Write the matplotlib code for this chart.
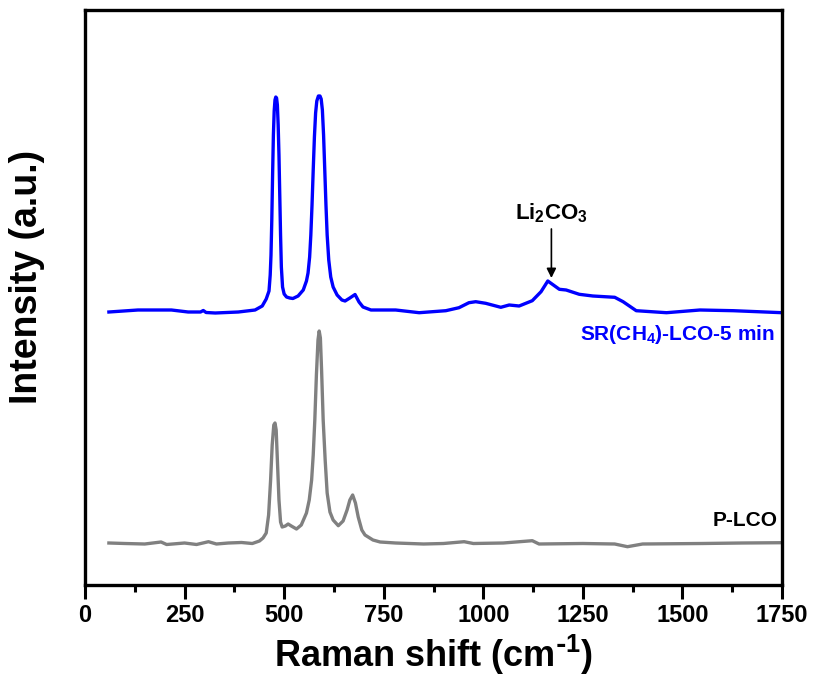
import matplotlib
matplotlib.use("Agg")
import matplotlib.pyplot as plt
from matplotlib.ticker import MultipleLocator

plt.rcParams['font.family'] = ['Liberation Sans', 'DejaVu Sans']
plt.rcParams['font.weight'] = 'bold'
plt.rcParams['mathtext.default'] = 'regular'

# SR(CH4)-LCO-5 min spectrum (offset upwards)
sr_x = [60, 133, 217, 259, 290, 297, 304, 327, 385, 427, 445, 455, 462, 465, 467, 469,
        471, 473, 475, 477, 479, 481, 483, 485, 487, 489, 491, 493, 496, 500, 506, 514,
        522, 535, 548, 556, 560, 564, 567, 570, 573, 576, 579, 582, 586, 590, 593, 596,
        599, 602, 605, 608, 612, 617, 623, 633, 645, 653, 665, 678, 688, 698,
        718, 740, 780, 839, 906, 939, 964, 981, 1006, 1044, 1065, 1090, 1123, 1145, 1162,
        1191, 1208, 1241, 1275, 1330, 1351, 1384, 1460, 1544, 1628, 1750]
sr_y = [273, 275, 275, 273, 273, 274.5, 272.5, 272, 273, 275, 279, 286, 294, 310, 330, 365,
        410, 450, 474, 485, 488, 487, 480, 460, 430, 390, 350, 318, 298, 291, 288, 287,
        286.5, 289, 295, 304, 312, 328, 350, 380, 415, 448, 472, 484, 489, 489, 486, 475,
        450, 415, 380, 350, 325, 308, 298, 290, 285, 284, 287, 290.5, 283, 278,
        275, 275, 275, 272.3, 274.3, 277.3, 282.3, 283.3, 281.7, 277.7, 280, 279, 284.3,
        293.3, 304, 295.7, 295, 290.7, 289, 287.7, 283.3, 274.3, 272.3, 275, 274.3, 272.3]

# P-LCO spectrum
p_x = [60, 100, 150, 191, 205, 250, 280, 310, 330, 360, 393, 420, 438, 447, 455, 461, 466,
       470, 474, 477, 480, 483, 487, 491, 495, 503, 510, 518, 531, 543, 556, 563, 569, 573,
       577, 581, 585, 588, 591, 594, 598, 603, 608, 615, 623, 636, 648, 658, 665, 672, 679,
       686, 695, 703, 723, 741, 780, 850, 900, 952, 975, 1050, 1123, 1140, 1250, 1330,
       1362, 1400, 1550, 1650, 1750]
p_y = [42, 41.5, 41, 43, 40.5, 42, 40.5, 43.3, 41, 42, 42.5, 41.5, 44, 47, 52, 70, 105,
       140, 160, 162, 155, 125, 85, 63, 58, 59, 61, 59, 56, 60, 72, 85, 105, 130,
       165, 210, 245, 254, 247, 215, 165, 125, 92, 73, 65, 59.3, 64, 75, 85, 90, 82,
       68, 55, 50, 45, 43, 42, 41, 41.5, 43.3, 41.5, 42, 44.3, 41, 41.5, 41,
       38.3, 41, 41.5, 42, 42.3]

fig = plt.figure(figsize=(8.19, 6.78), dpi=100)
ax = fig.add_axes([85 / 819, 1 - 585 / 678, 697 / 819, 575 / 678])

ax.plot(sr_x, sr_y, color='#0000ff', lw=2.4, solid_joinstyle='round')
ax.plot(p_x, p_y, color='#808080', lw=2.4, solid_joinstyle='round')

ax.set_xlim(0, 1750)
ax.set_ylim(0, 575)
ax.xaxis.set_major_locator(MultipleLocator(250))
ax.xaxis.set_minor_locator(MultipleLocator(125))
ax.set_yticks([])
ax.tick_params(axis='x', which='major', direction='out', length=10, width=2.2,
               labelsize=17, pad=4)
ax.tick_params(axis='x', which='minor', direction='out', length=5, width=2.2)
for s in ax.spines.values():
    s.set_linewidth(2.4)

ax.set_xlabel(r'Raman shift (cm$^{\text{-}1}$)', fontsize=26, fontweight='bold', labelpad=4)
ax.set_ylabel('Intensity (a.u.)', fontsize=27, fontweight='bold')
ax.yaxis.set_label_coords(-0.057, 0.535)

ax.text(1732, 250, 'SR(CH$_4$)-LCO-5 min', color='#0000ff', fontsize=15,
        fontweight='bold', ha='right', va='center')
ax.text(1740, 65, 'P-LCO', color='black', fontsize=15, fontweight='bold',
        ha='right', va='center')
ax.annotate('Li$_2$CO$_3$', xy=(1171, 307), xytext=(1171, 372),
            fontsize=16, fontweight='bold', ha='center', va='center',
            arrowprops=dict(arrowstyle='-|>', color='black', lw=1.2,
                            mutation_scale=14, shrinkA=1, shrinkB=0))

fig.savefig('out.png', dpi=100)
